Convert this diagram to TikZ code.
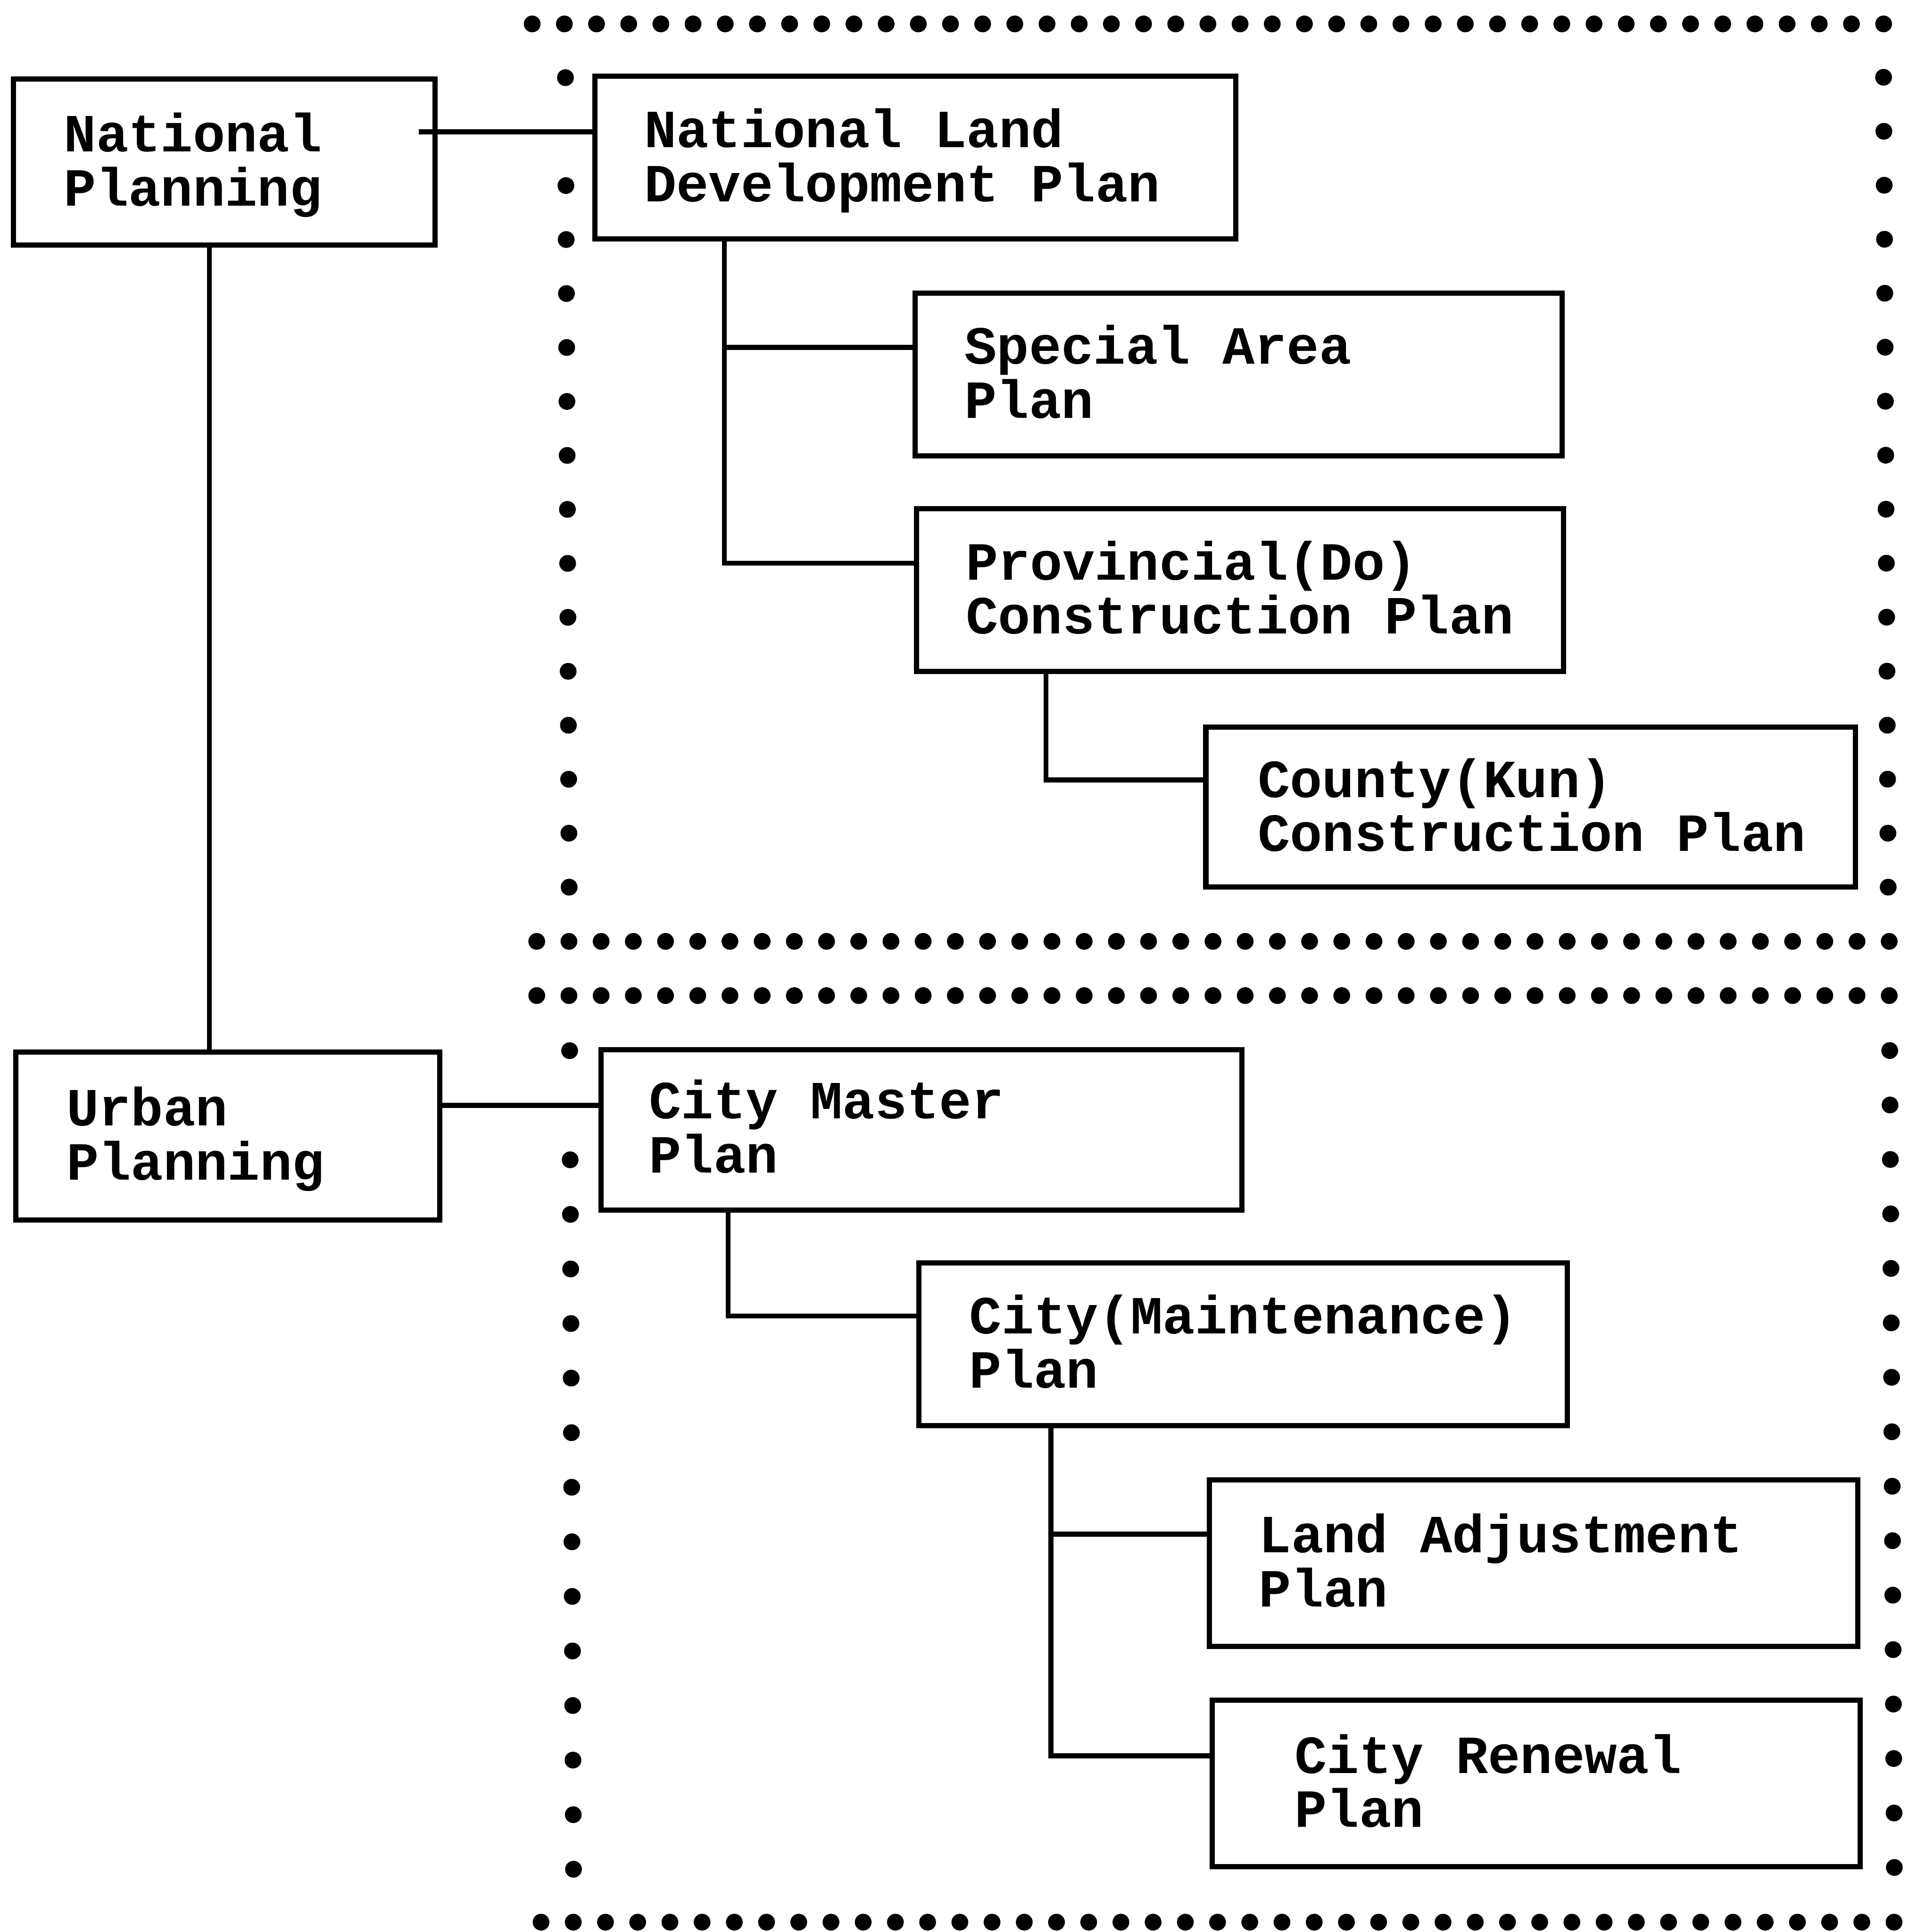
\documentclass[tikz,border=0pt]{standalone}
\usepackage{fontspec}
\newfontfamily\labelfont{Liberation Mono}
\usetikzlibrary{calc}
\newcommand{\twolines}[2]{\vtop{\hbox{#1}\hbox{#2}}}
\tikzset{
  box/.style={draw, rectangle, line width=1.2pt, inner sep=0pt, outer sep=0pt},
  lbl/.style={anchor=base west, inner sep=0pt, outer sep=0pt,
    font=\labelfont\bfseries\fontsize{12.4pt}{12.5pt}\selectfont},
  wire/.style={line width=1.15pt},
  dotmark/.style={fill=black}
}
\begin{document}
\begin{tikzpicture}[x=0.01cm, y=-0.01cm]
\fill[white] (0,0) rectangle (1556,1568);
\useasboundingbox (0,0) rectangle (1556,1568);

% dotted frames
\foreach \i in {0,...,42} {
  \fill[dotmark] ({432+\i*26.12},19.4) circle[radius=0.068cm];
  \fill[dotmark] ({435.7+\i*26.14},764) circle[radius=0.068cm];
  \fill[dotmark] ({435.7+\i*26.14},808) circle[radius=0.068cm];
  \fill[dotmark] ({439.2+\i*26.15},1560) circle[radius=0.068cm];
}
\foreach \k in {0,2,3,...,15} {
  \fill[dotmark] ({459+\k*0.2},{63+\k*43.8}) circle[radius=0.068cm];
  \fill[dotmark] ({462.4+\k*0.21},{852.7+\k*44.29}) circle[radius=0.068cm];
}
\foreach \k in {0,...,15} {
  \fill[dotmark] ({1529+\k*0.25},{62.7+\k*43.82}) circle[radius=0.068cm];
  \fill[dotmark] ({1534+\k*0.25},{852.6+\k*44.2}) circle[radius=0.068cm];
}

% boxes
\node[box, minimum width=3.42cm, minimum height=1.35cm] (np) at (182,131.5) {};
\node[box, minimum width=5.20cm, minimum height=1.32cm] (nldp) at (743,128) {};
\node[box, minimum width=5.25cm, minimum height=1.32cm] (sap) at (1005.5,304) {};
\node[box, minimum width=5.25cm, minimum height=1.32cm] (prov) at (1006.5,479) {};
\node[box, minimum width=5.27cm, minimum height=1.30cm] (county) at (1242.5,655) {};
\node[box, minimum width=3.44cm, minimum height=1.36cm] (urban) at (185,922) {};
\node[box, minimum width=5.20cm, minimum height=1.30cm] (cmp) at (748,917) {};
\node[box, minimum width=5.26cm, minimum height=1.32cm] (cmaint) at (1009,1091) {};
\node[box, minimum width=5.26cm, minimum height=1.35cm] (land) at (1245,1268.5) {};
\node[box, minimum width=5.26cm, minimum height=1.35cm] (renew) at (1247,1447.5) {};

% labels
\node[lbl] (tnp) at (52,123) {\twolines{National}{Planning}};
\node[lbl] (tnldp) at (523,119.5) {\twolines{National Land}{Development Plan}};
\node[lbl] (tsap) at (783,295.5) {\twolines{Special Area}{Plan}};
\node[lbl] (tprov) at (784,470.5) {\twolines{Provincial(Do)}{Construction Plan}};
\node[lbl] (tcounty) at (1021,647) {\twolines{County(Kun)}{Construction Plan}};
\node[lbl] (turban) at (54,913.5) {\twolines{Urban}{Planning}};
\node[lbl] (tcmp) at (527,908) {\twolines{City Master}{Plan}};
\node[lbl] (tcmaint) at (787,1082.5) {\twolines{City(Maintenance)}{Plan}};
\node[lbl] (tland) at (1022,1260) {\twolines{Land Adjustment}{Plan}};
\node[lbl] (trenew) at (1051,1439) {\twolines{City Renewal}{Plan}};

% reference lines for connectors
\coordinate (hA) at (0,107);
\coordinate (vA) at (170,0);
\coordinate (vB) at (588,0);
\coordinate (hB1) at (0,282);
\coordinate (hB2) at (0,457);
\coordinate (vC) at (849,0);
\coordinate (hC) at (0,633);
\coordinate (hD) at (0,897);
\coordinate (vE) at (591,0);
\coordinate (hE) at (0,1068);
\coordinate (vF) at (853,0);
\coordinate (hF1) at (0,1245);
\coordinate (hF2) at (0,1425);

% connectors
\draw[wire] ([xshift=-0.13cm]np.east |- hA) -- (nldp.west |- hA);
\draw[wire] (vA |- np.south) -- (vA |- urban.north);
\draw[wire] (vB |- nldp.south) |- (prov.west |- hB2);
\draw[wire] (vB |- hB1) -- (sap.west |- hB1);
\draw[wire] (vC |- prov.south) |- (county.west |- hC);
\draw[wire] (urban.east |- hD) -- (cmp.west |- hD);
\draw[wire] (vE |- cmp.south) |- (cmaint.west |- hE);
\draw[wire] (vF |- cmaint.south) |- (renew.west |- hF2);
\draw[wire] (vF |- hF1) -- (land.west |- hF1);
\end{tikzpicture}
\end{document}
